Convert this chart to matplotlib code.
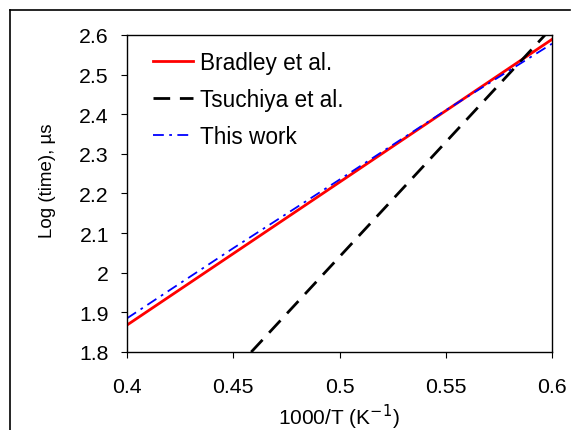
import matplotlib
matplotlib.use('Agg')
import matplotlib.pyplot as plt
from matplotlib.lines import Line2D

plt.rcParams['font.family'] = ['Liberation Sans', 'DejaVu Sans']

# data
x_bradley = [0.4, 0.6]
y_bradley = [1.868, 2.589]

x_tsuchiya = [0.45, 0.6]
y_tsuchiya = [1.751, 2.619]

x_work = [0.4, 0.45, 0.5, 0.55, 0.6]
y_work = [1.885, 2.062, 2.235, 2.41, 2.578]

xticks = [0.4, 0.45, 0.5, 0.55, 0.6]
xticklabels = ['0.4', '0.45', '0.5', '0.55', '0.6']
yticks = [1.8, 1.9, 2.0, 2.1, 2.2, 2.3, 2.4, 2.5, 2.6]
yticklabels = ['1.8', '1.9', '2', '2.1', '2.2', '2.3', '2.4', '2.5', '2.6']

fig = plt.figure(figsize=(5.71, 4.31), dpi=100)
ax = fig.add_axes([127/571, 1 - 353/431, (552-127)/571, (353-36)/431])

ax.plot(x_bradley, y_bradley, color='red', lw=2, label='Bradley et al.')
ax.plot(x_tsuchiya, y_tsuchiya, color='black', lw=2, dashes=(6, 3.5), label='Tsuchiya et al.')
ax.plot(x_work, y_work, color='blue', lw=1.3, dashes=(6, 3, 1.5, 3), label='This work')

ax.set_xlim(0.4, 0.6)
ax.set_ylim(1.8, 2.6)
ax.set_xticks(xticks)
ax.set_xticklabels(xticklabels)
ax.set_yticks(yticks)
ax.set_yticklabels(yticklabels)
ax.tick_params(direction='out', length=4, labelsize=15.3)
ax.tick_params(axis='x', pad=14)
ax.tick_params(axis='y', pad=9)
for s in ax.spines.values():
    s.set_linewidth(1)

ax.set_xlabel('1000/T (K$^{-1}$)', fontsize=15)
ax.xaxis.set_label_coords(0.499, -0.158)
ax.set_ylabel('Log (time), µs', fontsize=13.5)
ax.yaxis.set_label_coords(-0.168, 0.543)

ax.legend(loc='upper left', frameon=False, fontsize=16.3, handlelength=1.77,
          handletextpad=0.31, labelspacing=0.62, borderaxespad=0.0,
          bbox_to_anchor=(0.04, 0.978))

# outer chart frame (left and top edges visible)
fig.add_artist(Line2D([10/571, 10/571], [0, 1 - 11/431], color='black', lw=1.2,
                      transform=fig.transFigure))
fig.add_artist(Line2D([10/571, 570/571], [1 - 11/431, 1 - 11/431], color='black', lw=1.2,
                      transform=fig.transFigure))

fig.savefig('out.png', dpi=100)
